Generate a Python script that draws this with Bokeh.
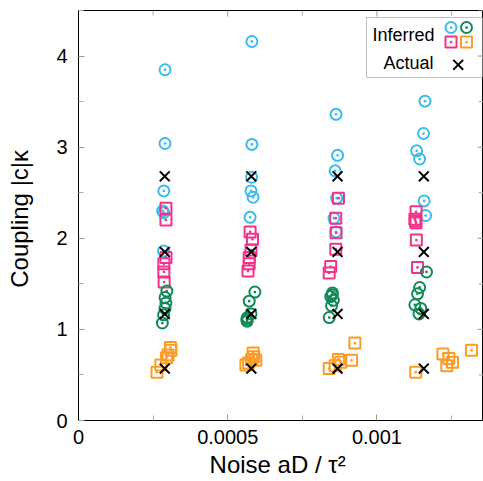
from bokeh.plotting import figure
from bokeh.models import Range1d, Label, BoxAnnotation, FixedTicker
from bokeh.embed import file_html
from bokeh.resources import INLINE

# ---------------- data (x in units of 1e-4) ----------------
actual_x = [2.89, 5.79, 8.68, 11.57]
actual_levels = [2.68, 1.85, 1.17, 0.57]

cyan_x = [2.90, 2.90, 2.86, 2.82, 2.86, 2.85,
          5.81, 5.81, 5.80, 5.78, 5.85, 5.75,
          8.63, 8.68, 8.60, 8.65, 8.56, 8.63,
          11.61, 11.56, 11.33, 11.43, 11.58, 11.63]
cyan_y = [3.85, 3.04, 2.52, 2.30, 2.28, 1.86,
          4.16, 3.03, 2.67, 2.52, 2.45, 2.23,
          3.36, 2.91, 2.74, 2.44, 2.22, 2.07,
          3.505, 3.15, 2.96, 2.87, 2.41, 2.25]

pink_x = [2.93, 2.93, 2.93, 2.86, 2.86, 2.87,
          5.75, 5.83, 5.78, 5.72, 5.72, 5.68,
          8.71, 8.62, 8.63, 8.62, 8.45, 8.40,
          11.31, 11.27, 11.29, 11.31, 11.32, 11.36]
pink_y = [2.33, 2.20, 1.79, 1.72, 1.63, 1.52,
          2.07, 1.99, 1.87, 1.79, 1.72, 1.64,
          2.44, 2.22, 2.06, 1.88, 1.69, 1.62,
          2.29, 2.21, 2.19, 2.17, 1.98, 1.68]

green_x = [2.96, 2.90, 2.93, 2.90, 2.85, 2.81,
           5.91, 5.72, 5.78, 5.66, 5.64, 5.65,
           8.51, 8.45, 8.54, 8.48, 8.40, 8.50,
           11.66, 11.43, 11.36, 11.27, 11.47, 11.41]
green_y = [1.42, 1.35, 1.29, 1.23, 1.16, 1.07,
           1.41, 1.31, 1.17, 1.13, 1.11, 1.09,
           1.40, 1.36, 1.32, 1.26, 1.13, 1.38,
           1.63, 1.46, 1.39, 1.27, 1.23, 1.17]

orange_x = [3.08, 3.10, 3.00, 2.95, 2.76, 2.63,
            5.85, 5.87, 5.94, 5.80, 5.61, 5.70,
            9.26, 9.15, 8.71, 8.79, 8.40, 8.60,
            13.17, 12.21, 12.41, 12.53, 12.34, 11.30]
orange_y = [0.80, 0.77, 0.72, 0.69, 0.61, 0.53,
            0.74, 0.70, 0.66, 0.67, 0.61, 0.63,
            0.85, 0.66, 0.67, 0.64, 0.57, 0.60,
            0.77, 0.73, 0.68, 0.64, 0.60, 0.53]

x_ticks = [0, 0.0005, 0.001]
x_tick_labels = ["0", "0.0005", "0.001"]
x_minor = [0.00025, 0.00075, 0.00125]
y_ticks = [0, 1, 2, 3, 4]
y_minor = [0.5, 1.5, 2.5, 3.5, 4.5]

x_title = "Noise  aD / τ²"
y_title = "Coupling  |c|κ"

SCALE = 1e-4
XMAX = 0.001357
YMAX = 4.5

C_CYAN = "#3BBCEC"
C_PINK = "#F2338C"
C_GREEN = "#118A57"
C_ORANGE = "#FC9B25"

W, H = 483, 481
L, R, T, B = 78, 0, 10, 61
FW, FH = W - L - R, H - T - B

def sx(px):
    return (px - L) / FW * XMAX

def sy(py):
    return (T + FH - py) / FH * YMAX

p = figure(width=W, height=H, output_backend="svg", toolbar_location=None,
           x_range=Range1d(0, XMAX), y_range=Range1d(0, YMAX),
           min_border_left=L, min_border_right=R, min_border_top=T,
           min_border_bottom=B)
p.xgrid.visible = False
p.ygrid.visible = False
p.outline_line_color = "black"
p.outline_line_width = 1
p.background_fill_color = "white"
p.border_fill_color = "white"

MAJ, MIN = 6, 5
TICK_MAJ_C, TICK_MIN_C = "#999999", "#aaaaaa"

def style_axis(ax):
    ax.axis_line_color = "black"
    ax.axis_line_width = 1
    ax.major_tick_in = MAJ
    ax.major_tick_out = 0
    ax.minor_tick_in = MIN
    ax.minor_tick_out = 0
    ax.major_tick_line_color = TICK_MAJ_C
    ax.minor_tick_line_color = TICK_MIN_C
    ax.major_label_text_font = "Liberation Sans"
    ax.major_label_text_font_size = "20px"
    ax.major_label_text_color = "black"
    ax.axis_label_text_font = "Liberation Sans"
    ax.axis_label_text_font_size = "24px"
    ax.axis_label_text_font_style = "normal"
    ax.axis_label_text_color = "black"

xa = p.xaxis[0]
xa.ticker = FixedTicker(ticks=x_ticks, minor_ticks=x_minor)
xa.major_label_overrides = {v: s for v, s in zip(x_ticks, x_tick_labels)}
style_axis(xa)
xa.major_label_standoff = 9
xa.axis_label = x_title
xa.axis_label_standoff = 4

ya = p.yaxis[0]
ya.ticker = FixedTicker(ticks=y_ticks, minor_ticks=y_minor)
style_axis(ya)
ya.major_label_standoff = 11
ya.axis_label = y_title
ya.axis_label_standoff = 20

# mirror ticks on top and right edges (derived from the tick lists)
dy_maj, dy_min = MAJ / FH * YMAX, MIN / FH * YMAX
dx_maj, dx_min = MAJ / FW * XMAX, MIN / FW * XMAX
p.segment(x0=x_ticks, x1=x_ticks, y0=[YMAX] * len(x_ticks),
          y1=[YMAX - dy_maj] * len(x_ticks), line_color=TICK_MAJ_C, line_width=1)
p.segment(x0=x_minor, x1=x_minor, y0=[YMAX] * len(x_minor),
          y1=[YMAX - dy_min] * len(x_minor), line_color=TICK_MIN_C, line_width=1)
p.segment(x0=[XMAX] * len(y_ticks), x1=[XMAX - dx_maj] * len(y_ticks),
          y0=y_ticks, y1=y_ticks, line_color=TICK_MAJ_C, line_width=1)
p.segment(x0=[XMAX] * len(y_minor), x1=[XMAX - dx_min] * len(y_minor),
          y0=y_minor, y1=y_minor, line_color=TICK_MIN_C, line_width=1)

# ---------------- data marks ----------------
ms = 11
p.scatter([v * SCALE for v in cyan_x], cyan_y, marker="circle_dot", size=ms,
          fill_color=None, line_color=C_CYAN, line_width=2)
p.scatter([v * SCALE for v in pink_x], pink_y, marker="square_dot", size=ms,
          fill_color=None, line_color=C_PINK, line_width=2)
p.scatter([v * SCALE for v in green_x], green_y, marker="circle_dot", size=ms,
          fill_color=None, line_color=C_GREEN, line_width=2)
p.scatter([v * SCALE for v in orange_x], orange_y, marker="square_dot", size=ms,
          fill_color=None, line_color=C_ORANGE, line_width=2)

ax_list, ay_list = [], []
for xv in actual_x:
    for yv in actual_levels:
        ax_list.append(xv * SCALE)
        ay_list.append(yv)
p.scatter(ax_list, ay_list, marker="x", size=14, line_color="black", line_width=2)

# ---------------- legend ----------------
box = BoxAnnotation(left=sx(366), right=sx(482), top=sy(17), bottom=sy(77),
                    fill_color="white", fill_alpha=1, line_color="#333333",
                    line_width=1, level="underlay")
p.add_layout(box)
p.scatter([sx(450.5)], [sy(27)], marker="circle_dot", size=ms, fill_color=None,
          line_color=C_CYAN, line_width=2)
p.scatter([sx(466)], [sy(27)], marker="circle_dot", size=ms, fill_color=None,
          line_color=C_GREEN, line_width=2)
p.scatter([sx(450.5)], [sy(41.5)], marker="square_dot", size=ms, fill_color=None,
          line_color=C_PINK, line_width=2)
p.scatter([sx(466)], [sy(41.5)], marker="square_dot", size=ms, fill_color=None,
          line_color=C_ORANGE, line_width=2)
p.scatter([sx(457.7)], [sy(64.3)], marker="x", size=14, line_color="black",
          line_width=2)

SHIFT = 0.37  # em offset of the rendered baseline

def lab(text, px, py, size=18, align="right"):
    p.add_layout(Label(x=px, y=py - SHIFT * size, x_units="canvas", y_units="canvas",
                       text=text, text_font="Liberation Sans",
                       text_font_size=f"{size}px", text_align=align,
                       text_baseline="alphabetic", text_color="black",
                       level="overlay"))

lab("Inferred", 434, 41)
lab("Actual", 433, 69)

open("out.html", "w").write(file_html(p, INLINE))
